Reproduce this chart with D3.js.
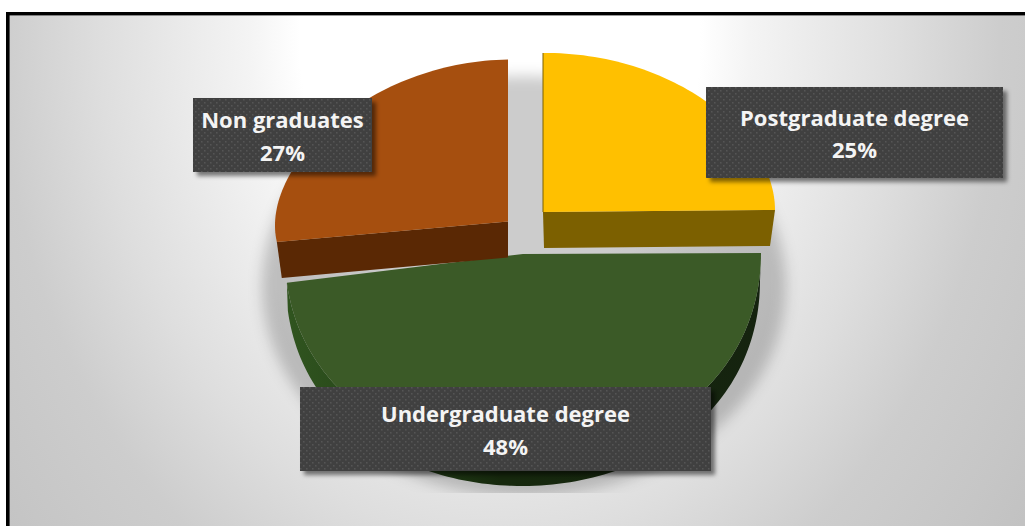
<!DOCTYPE html>
<html>
<head>
<meta charset="utf-8">
<style>
  html, body { margin: 0; padding: 0; background: #fff; }
  svg { display: block; }
</style>
<script src="https://cdn.jsdelivr.net/npm/d3@7/dist/d3.min.js"></script>
</head>
<body>
<svg id="chart" width="1025" height="526"></svg>
<script>
// Highest qualification of respondents, drawn clockwise from twelve o'clock
const categories = ["Postgraduate degree", "Undergraduate degree", "Non graduates"];
const shares = [25, 48, 27];
const topColors = ["#ffc000", "#3b5a27", "#a64f0f"];
const sideColors = ["#7c6000", "url(#greenSide)", "#5a2804"];

// Exploded wedge frames: apex, radius, foreshortening and lean of each tilted slice
const frames = [
  { x: 543, y: 212, rx: 232, a: 140, b: -19, lean: -2, depth: 36, inset: 5 },
  { x: 523, y: 254, rx: 238, a: 224, b: -20, lean: -1, depth: 28, inset: 1 },
  { x: 508, y: 221.5, rx: 233, a: 135, b: -27, lean: -4, depth: 36, inset: 5 }
];
const labelBoxes = [
  { x: 706, y: 87, w: 297, h: 91 },
  { x: 300, y: 387, w: 411, h: 84 },
  { x: 193, y: 98, w: 179, h: 74 }
];

const svg = d3.select("#chart");
const defs = svg.append("defs");

const backdrop = defs.append("radialGradient")
  .attr("id", "backdrop")
  .attr("gradientUnits", "userSpaceOnUse")
  .attr("cx", 0).attr("cy", 0).attr("r", 700)
  .attr("gradientTransform", "translate(500,40) scale(1,1.25)");
[[0, "#ffffff"], [0.286, "#ffffff"], [0.357, "#f4f4f4"], [0.571, "#dedede"], [0.714, "#cdcdcd"], [0.857, "#c6c6c6"], [1, "#bebebe"]]
  .forEach(([o, c]) => backdrop.append("stop").attr("offset", o).attr("stop-color", c));

const greenSide = defs.append("linearGradient")
  .attr("id", "greenSide")
  .attr("gradientUnits", "userSpaceOnUse")
  .attr("x1", 290).attr("x2", 760).attr("y1", 0).attr("y2", 0);
[[0, "#30541f"], [0.14, "#28491a"], [0.45, "#16280d"], [1, "#15230f"]]
  .forEach(([o, c]) => greenSide.append("stop").attr("offset", o).attr("stop-color", c));

const softShadow = defs.append("filter").attr("id", "softShadow")
  .attr("x", "-20%").attr("y", "-20%").attr("width", "140%").attr("height", "140%");
softShadow.append("feGaussianBlur").attr("stdDeviation", 7);

const boxShadow = defs.append("filter").attr("id", "boxShadow")
  .attr("x", "-10%").attr("y", "-20%").attr("width", "120%").attr("height", "140%");
boxShadow.append("feDropShadow")
  .attr("dx", 4).attr("dy", 4).attr("stdDeviation", 2.2)
  .attr("flood-color", "#000").attr("flood-opacity", 0.5);

const dots = defs.append("pattern").attr("id", "dots")
  .attr("patternUnits", "userSpaceOnUse").attr("width", 6).attr("height", 6);
dots.append("rect").attr("width", 6).attr("height", 6).attr("fill", "#404040");
dots.append("rect").attr("x", 0).attr("y", 0).attr("width", 1.6).attr("height", 1.6).attr("fill", "#545454");
dots.append("rect").attr("x", 3).attr("y", 3).attr("width", 1.6).attr("height", 1.6).attr("fill", "#545454");

defs.append("clipPath").attr("id", "floor")
  .append("rect").attr("x", 0).attr("y", 0).attr("width", 1025).attr("height", 493);

// Panel background and its heavy top and left rule
svg.append("rect").attr("x", 6).attr("y", 12).attr("width", 1019).attr("height", 514)
  .attr("fill", "url(#backdrop)");
svg.append("rect").attr("x", 6).attr("y", 12).attr("width", 1019).attr("height", 3.4).attr("fill", "#000");
svg.append("rect").attr("x", 6).attr("y", 12).attr("width", 3.6).attr("height", 514).attr("fill", "#000");

// Soft cast shadow under the whole pie, cut off at the floor line
svg.append("g").attr("clip-path", "url(#floor)")
  .append("ellipse")
  .attr("cx", 524).attr("cy", 286).attr("rx", 262).attr("ry", 210)
  .attr("fill", "#000").attr("fill-opacity", 0.2)
  .attr("filter", "url(#softShadow)");

const pie = d3.pie().sort(null).value(d => d);
const arcs = pie(shares);

// Project an angle on the tilted disc to the page, optionally on the lower rim
function rimPoint(frame, angle, lowered) {
  const u = Math.sin(angle);
  const v = -Math.cos(angle);
  const rx = lowered ? frame.rx - frame.inset : frame.rx;
  const dy = lowered ? frame.depth : 0;
  return [frame.x + rx * u, frame.y + dy + frame.a * v + frame.b * v * v + frame.lean * u];
}

function sampleAngles(arc) {
  const n = Math.ceil((arc.endAngle - arc.startAngle) * 40);
  return d3.range(n + 1).map(i => arc.startAngle + (arc.endAngle - arc.startAngle) * i / n);
}

const outline = d3.line();
const slices = svg.append("g").selectAll("g")
  .data(arcs)
  .join("g");

slices.each(function (arc, i) {
  const g = d3.select(this);
  const f = frames[i];
  const angles = sampleAngles(arc);
  const rim = angles.map(a => rimPoint(f, a, false));
  const lowerRim = angles.map(a => rimPoint(f, a, true));
  const apex = [f.x, f.y];
  const lowerApex = [f.x + 1, f.y + f.depth];

  let wall;
  if (i === 1) {
    // The front slice shows its curved outer wall
    wall = rim.concat(lowerRim.slice().reverse());
  } else if (i === 0) {
    // The cut face along the right-hand radius
    wall = [apex, rim[rim.length - 1], lowerRim[lowerRim.length - 1], lowerApex];
  } else {
    // The cut face along the left-hand radius
    wall = [apex, rim[0], lowerRim[0], [f.x, f.y + f.depth]];
  }
  g.append("path").attr("d", outline(wall) + "Z").attr("fill", sideColors[i]);

  g.append("path")
    .attr("d", outline([apex].concat(rim)) + "Z")
    .attr("fill", topColors[i]);
});

// Thin olive edge down the upright radius of the yellow slice
svg.append("path")
  .attr("d", outline([rimPoint(frames[0], arcs[0].startAngle, false), [frames[0].x, frames[0].y]]))
  .attr("stroke", sideColors[0]).attr("stroke-width", 1).attr("fill", "none");

// Data labels
const labels = svg.append("g").selectAll("g")
  .data(categories)
  .join("g");

labels.append("rect")
  .attr("x", (d, i) => labelBoxes[i].x)
  .attr("y", (d, i) => labelBoxes[i].y)
  .attr("width", (d, i) => labelBoxes[i].w)
  .attr("height", (d, i) => labelBoxes[i].h)
  .attr("fill", "url(#dots)")
  .attr("filter", "url(#boxShadow)");

const labelText = labels.append("text")
  .attr("text-anchor", "middle")
  .attr("font-family", "'Open Sans', sans-serif")
  .attr("font-weight", 700)
  .attr("font-size", 22)
  .attr("fill", "#f4f4f4");

labelText.append("tspan")
  .attr("x", (d, i) => labelBoxes[i].x + labelBoxes[i].w / 2)
  .attr("y", (d, i) => labelBoxes[i].y + labelBoxes[i].h / 2 - 7)
  .text(d => d);

labelText.append("tspan")
  .attr("x", (d, i) => labelBoxes[i].x + labelBoxes[i].w / 2)
  .attr("y", (d, i) => labelBoxes[i].y + labelBoxes[i].h / 2 + 25.5)
  .text((d, i) => shares[i] + "%");
</script>
</body>
</html>
